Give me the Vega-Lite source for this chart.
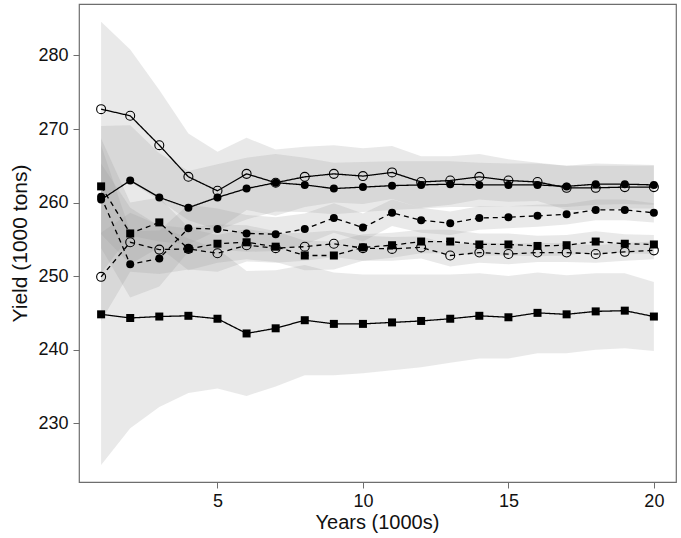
{
  "$schema": "https://vega.github.io/schema/vega-lite/v6.json",
  "width": 597,
  "height": 478,
  "autosize": {"type": "none"},
  "padding": {"left": 79, "top": 4, "right": 5, "bottom": 56},
  "background": "white",
  "config": {
    "view": {"stroke": "#6e6e6e", "strokeWidth": 1.2},
    "font": "Liberation Sans",
    "axis": {
      "grid": false,
      "domain": false,
      "tickColor": "#6e6e6e",
      "tickSize": 6,
      "labelFont": "Liberation Sans",
      "labelFontSize": 18,
      "labelColor": "#111",
      "titleFont": "Liberation Sans",
      "titleFontSize": 20,
      "titleFontWeight": "normal",
      "titleColor": "#111"
    }
  },
  "data": {"values": [
    {"s":"OC","x":1,"y":272.7,"lo":260.8,"hi":284.6},
    {"s":"OC","x":2,"y":271.8,"lo":262.8,"hi":280.8},
    {"s":"OC","x":3,"y":267.8,"lo":260.3,"hi":275.3},
    {"s":"OC","x":4,"y":263.5,"lo":257.6,"hi":269.4},
    {"s":"OC","x":5,"y":261.6,"lo":256.3,"hi":266.9},
    {"s":"OC","x":6,"y":263.9,"lo":259.0,"hi":268.8},
    {"s":"OC","x":7,"y":262.7,"lo":258.2,"hi":267.2},
    {"s":"OC","x":8,"y":263.5,"lo":259.4,"hi":267.6},
    {"s":"OC","x":9,"y":263.9,"lo":260.0,"hi":267.8},
    {"s":"OC","x":10,"y":263.6,"lo":259.8,"hi":267.4},
    {"s":"OC","x":11,"y":264.1,"lo":260.5,"hi":267.7},
    {"s":"OC","x":12,"y":262.8,"lo":259.3,"hi":266.3},
    {"s":"OC","x":13,"y":263.0,"lo":259.7,"hi":266.3},
    {"s":"OC","x":14,"y":263.5,"lo":260.4,"hi":266.6},
    {"s":"OC","x":15,"y":263.0,"lo":260.1,"hi":265.9},
    {"s":"OC","x":16,"y":262.8,"lo":260.2,"hi":265.4},
    {"s":"OC","x":17,"y":262.0,"lo":259.0,"hi":265.0},
    {"s":"OC","x":18,"y":262.0,"lo":259.0,"hi":265.0},
    {"s":"OC","x":19,"y":262.1,"lo":259.2,"hi":265.0},
    {"s":"OC","x":20,"y":262.1,"lo":259.2,"hi":265.0},

    {"s":"FC","x":1,"y":260.4,"lo":250.4,"hi":270.4},
    {"s":"FC","x":2,"y":263.0,"lo":255.5,"hi":270.5},
    {"s":"FC","x":3,"y":260.7,"lo":254.7,"hi":266.7},
    {"s":"FC","x":4,"y":259.3,"lo":254.3,"hi":264.3},
    {"s":"FC","x":5,"y":260.7,"lo":256.2,"hi":265.2},
    {"s":"FC","x":6,"y":261.9,"lo":257.7,"hi":266.1},
    {"s":"FC","x":7,"y":262.7,"lo":258.8,"hi":266.6},
    {"s":"FC","x":8,"y":262.4,"lo":258.7,"hi":266.1},
    {"s":"FC","x":9,"y":261.9,"lo":258.4,"hi":265.4},
    {"s":"FC","x":10,"y":262.1,"lo":258.7,"hi":265.5},
    {"s":"FC","x":11,"y":262.3,"lo":259.0,"hi":265.6},
    {"s":"FC","x":12,"y":262.4,"lo":259.2,"hi":265.6},
    {"s":"FC","x":13,"y":262.5,"lo":259.4,"hi":265.6},
    {"s":"FC","x":14,"y":262.4,"lo":259.4,"hi":265.4},
    {"s":"FC","x":15,"y":262.4,"lo":259.5,"hi":265.3},
    {"s":"FC","x":16,"y":262.4,"lo":259.5,"hi":265.3},
    {"s":"FC","x":17,"y":262.2,"lo":259.4,"hi":265.0},
    {"s":"FC","x":18,"y":262.5,"lo":259.7,"hi":265.3},
    {"s":"FC","x":19,"y":262.5,"lo":259.8,"hi":265.2},
    {"s":"FC","x":20,"y":262.4,"lo":259.7,"hi":265.1},

    {"s":"SQ","x":1,"y":244.8,"lo":224.3,"hi":265.3},
    {"s":"SQ","x":2,"y":244.3,"lo":229.3,"hi":259.3},
    {"s":"SQ","x":3,"y":244.5,"lo":232.2,"hi":256.8},
    {"s":"SQ","x":4,"y":244.6,"lo":234.1,"hi":255.1},
    {"s":"SQ","x":5,"y":244.2,"lo":234.7,"hi":253.7},
    {"s":"SQ","x":6,"y":242.2,"lo":233.7,"hi":250.7},
    {"s":"SQ","x":7,"y":242.9,"lo":235.0,"hi":250.8},
    {"s":"SQ","x":8,"y":244.0,"lo":236.5,"hi":251.5},
    {"s":"SQ","x":9,"y":243.5,"lo":236.5,"hi":250.5},
    {"s":"SQ","x":10,"y":243.5,"lo":236.8,"hi":250.2},
    {"s":"SQ","x":11,"y":243.7,"lo":237.2,"hi":250.2},
    {"s":"SQ","x":12,"y":243.9,"lo":237.6,"hi":250.2},
    {"s":"SQ","x":13,"y":244.2,"lo":238.2,"hi":250.2},
    {"s":"SQ","x":14,"y":244.6,"lo":238.8,"hi":250.4},
    {"s":"SQ","x":15,"y":244.4,"lo":238.8,"hi":250.0},
    {"s":"SQ","x":16,"y":245.0,"lo":239.5,"hi":250.5},
    {"s":"SQ","x":17,"y":244.8,"lo":239.5,"hi":250.1},
    {"s":"SQ","x":18,"y":245.2,"lo":240.0,"hi":250.4},
    {"s":"SQ","x":19,"y":245.3,"lo":240.2,"hi":250.4},
    {"s":"SQ","x":20,"y":244.5,"lo":239.8,"hi":249.2},

    {"s":"DFC","x":1,"y":260.8,"lo":253.8,"hi":267.8},
    {"s":"DFC","x":2,"y":251.6,"lo":247.1,"hi":256.1},
    {"s":"DFC","x":3,"y":252.4,"lo":248.6,"hi":256.2},
    {"s":"DFC","x":4,"y":256.5,"lo":253.3,"hi":259.7},
    {"s":"DFC","x":5,"y":256.4,"lo":253.6,"hi":259.2},
    {"s":"DFC","x":6,"y":255.8,"lo":253.3,"hi":258.3},
    {"s":"DFC","x":7,"y":255.7,"lo":253.4,"hi":258.0},
    {"s":"DFC","x":8,"y":256.4,"lo":254.3,"hi":258.5},
    {"s":"DFC","x":9,"y":257.9,"lo":255.9,"hi":259.9},
    {"s":"DFC","x":10,"y":256.6,"lo":254.7,"hi":258.5},
    {"s":"DFC","x":11,"y":258.6,"lo":256.8,"hi":260.4},
    {"s":"DFC","x":12,"y":257.6,"lo":255.9,"hi":259.3},
    {"s":"DFC","x":13,"y":257.2,"lo":255.6,"hi":258.8},
    {"s":"DFC","x":14,"y":257.9,"lo":256.3,"hi":259.5},
    {"s":"DFC","x":15,"y":258.0,"lo":256.5,"hi":259.5},
    {"s":"DFC","x":16,"y":258.2,"lo":256.7,"hi":259.7},
    {"s":"DFC","x":17,"y":258.4,"lo":257.0,"hi":259.8},
    {"s":"DFC","x":18,"y":259.0,"lo":257.6,"hi":260.4},
    {"s":"DFC","x":19,"y":259.0,"lo":257.6,"hi":260.4},
    {"s":"DFC","x":20,"y":258.6,"lo":257.3,"hi":259.9},

    {"s":"DSQ","x":1,"y":262.2,"lo":255.7,"hi":268.7},
    {"s":"DSQ","x":2,"y":255.8,"lo":251.6,"hi":260.0},
    {"s":"DSQ","x":3,"y":257.3,"lo":253.9,"hi":260.7},
    {"s":"DSQ","x":4,"y":253.7,"lo":250.8,"hi":256.6},
    {"s":"DSQ","x":5,"y":254.4,"lo":251.8,"hi":257.0},
    {"s":"DSQ","x":6,"y":254.6,"lo":252.3,"hi":256.9},
    {"s":"DSQ","x":7,"y":254.0,"lo":251.9,"hi":256.1},
    {"s":"DSQ","x":8,"y":252.8,"lo":250.8,"hi":254.8},
    {"s":"DSQ","x":9,"y":252.8,"lo":250.9,"hi":254.7},
    {"s":"DSQ","x":10,"y":253.9,"lo":252.1,"hi":255.7},
    {"s":"DSQ","x":11,"y":254.2,"lo":252.5,"hi":255.9},
    {"s":"DSQ","x":12,"y":254.7,"lo":253.1,"hi":256.3},
    {"s":"DSQ","x":13,"y":254.7,"lo":253.1,"hi":256.3},
    {"s":"DSQ","x":14,"y":254.3,"lo":252.8,"hi":255.8},
    {"s":"DSQ","x":15,"y":254.3,"lo":252.8,"hi":255.8},
    {"s":"DSQ","x":16,"y":254.1,"lo":252.7,"hi":255.5},
    {"s":"DSQ","x":17,"y":254.2,"lo":252.8,"hi":255.6},
    {"s":"DSQ","x":18,"y":254.7,"lo":253.3,"hi":256.1},
    {"s":"DSQ","x":19,"y":254.4,"lo":253.1,"hi":255.7},
    {"s":"DSQ","x":20,"y":254.3,"lo":253.0,"hi":255.6},

    {"s":"DOC","x":1,"y":249.9,"lo":243.9,"hi":255.9},
    {"s":"DOC","x":2,"y":254.6,"lo":250.6,"hi":258.6},
    {"s":"DOC","x":3,"y":253.6,"lo":250.3,"hi":256.9},
    {"s":"DOC","x":4,"y":253.7,"lo":250.9,"hi":256.5},
    {"s":"DOC","x":5,"y":253.1,"lo":250.6,"hi":255.6},
    {"s":"DOC","x":6,"y":254.2,"lo":252.0,"hi":256.4},
    {"s":"DOC","x":7,"y":253.8,"lo":251.8,"hi":255.8},
    {"s":"DOC","x":8,"y":254.0,"lo":252.1,"hi":255.9},
    {"s":"DOC","x":9,"y":254.4,"lo":252.6,"hi":256.2},
    {"s":"DOC","x":10,"y":253.8,"lo":252.1,"hi":255.5},
    {"s":"DOC","x":11,"y":253.7,"lo":252.1,"hi":255.3},
    {"s":"DOC","x":12,"y":253.9,"lo":252.4,"hi":255.4},
    {"s":"DOC","x":13,"y":252.8,"lo":251.3,"hi":254.3},
    {"s":"DOC","x":14,"y":253.2,"lo":251.8,"hi":254.6},
    {"s":"DOC","x":15,"y":253.0,"lo":251.6,"hi":254.4},
    {"s":"DOC","x":16,"y":253.2,"lo":251.9,"hi":254.5},
    {"s":"DOC","x":17,"y":253.2,"lo":251.9,"hi":254.5},
    {"s":"DOC","x":18,"y":253.0,"lo":251.8,"hi":254.2},
    {"s":"DOC","x":19,"y":253.3,"lo":252.1,"hi":254.5},
    {"s":"DOC","x":20,"y":253.5,"lo":252.3,"hi":254.7}
  ]},
  "encoding": {
    "x": {
      "field": "x", "type": "quantitative",
      "scale": {"domain": [0.24, 20.76], "nice": false, "zero": false},
      "axis": {"values": [5, 10, 15, 20], "title": "Years (1000s)", "labelPadding": 4, "titleX": 298, "titleY": 40, "titleBaseline": "middle", "titleAnchor": null}
    },
    "y": {
      "field": "y", "type": "quantitative",
      "scale": {"domain": [222, 287], "nice": false, "zero": false},
      "axis": {"values": [230, 240, 250, 260, 270, 280], "title": "Yield (1000 tons)", "titleFontSize": 21, "labelPadding": 5, "titleX": -59, "titleY": 239, "titleAngle": -90, "titleBaseline": "middle", "titleAlign": "center"}
    }
  },
  "layer": [
    {
      "mark": {"type": "area", "color": "#999999", "opacity": 0.22},
      "encoding": {
        "y": {"field": "lo", "type": "quantitative"},
        "y2": {"field": "hi"},
        "detail": {"field": "s", "type": "nominal"}
      }
    },
    {
      "mark": {"type": "line", "color": "black", "strokeWidth": 1.3},
      "encoding": {
        "detail": {"field": "s", "type": "nominal"},
        "strokeDash": {
          "field": "s", "type": "nominal",
          "scale": {"domain": ["OC", "FC", "SQ", "DFC", "DSQ", "DOC"], "range": [[1, 0], [1, 0], [1, 0], [5, 4], [5, 4], [5, 4]]},
          "legend": null
        }
      }
    },
    {
      "transform": [{"filter": {"field": "s", "oneOf": ["FC", "SQ", "DFC", "DSQ"]}}],
      "mark": {"type": "point", "filled": true, "color": "black", "opacity": 1, "size": 64},
      "encoding": {
        "shape": {
          "field": "s", "type": "nominal",
          "scale": {"domain": ["FC", "SQ", "DFC", "DSQ"], "range": ["circle", "square", "circle", "square"]},
          "legend": null
        }
      }
    },
    {
      "transform": [{"filter": {"field": "s", "oneOf": ["OC", "DOC"]}}],
      "mark": {"type": "point", "shape": "circle", "filled": false, "stroke": "black", "strokeWidth": 1.1, "opacity": 1, "size": 80}
    }
  ]
}
